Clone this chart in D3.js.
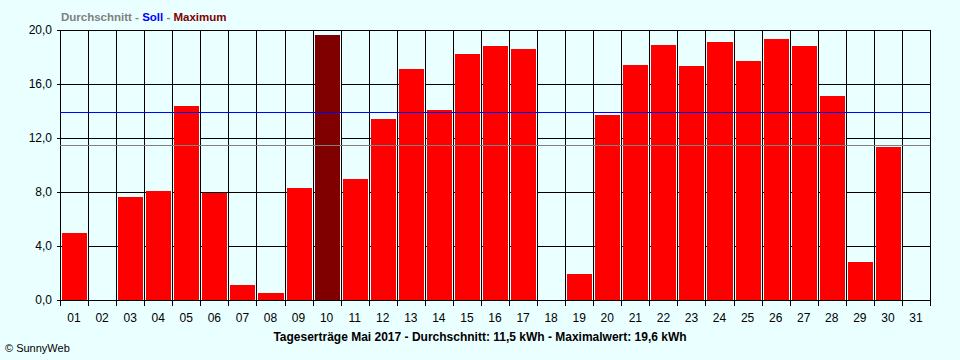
<!DOCTYPE html>
<html><head><meta charset="utf-8">
<script src="https://cdn.jsdelivr.net/npm/d3@7"></script>
<style>body{margin:0;background:#eaffff;} svg{display:block;}</style>
</head><body>
<script>
const days = ["01","02","03","04","05","06","07","08","09","10","11","12","13","14","15","16","17","18","19","20","21","22","23","24","25","26","27","28","29","30","31"];
const values = [5.0,0,7.6,8.1,14.4,7.9,1.1,0.5,8.3,19.6,9.0,13.4,17.1,14.1,18.2,18.8,18.6,0,1.9,13.7,17.4,18.9,17.3,19.1,17.7,19.3,18.8,15.1,2.8,11.3,0];
const yTicks = [0,4,8,12,16,20];
const yTickLabels = ["0,0","4,0","8,0","12,0","16,0","20,0"];
const average = 11.5;
const soll = 13.9;
const maxValue = 19.6;
const title = "Tageserträge Mai 2017 - Durchschnitt: 11,5 kWh - Maximalwert: 19,6 kWh";

const W=960,H=360, L=60,R=930,T=30,B=300;
const svg=d3.select("body").append("svg").attr("width",W).attr("height",H);
svg.append("rect").attr("width",W).attr("height",H).attr("fill","#eaffff");
const x=d3.scaleBand().domain(days).range([L,R]).padding(0);
const y=d3.scaleLinear().domain([0,20]).range([B,T]);
const font="'Liberation Sans', Arial, sans-serif";

// horizontal grid
svg.append("g").selectAll("line").data(yTicks).join("line")
 .attr("x1",L-3).attr("x2",R).attr("y1",d=>Math.round(y(d))+0.5).attr("y2",d=>Math.round(y(d))+0.5)
 .attr("stroke","#000").attr("stroke-width",1);
// vertical grid (band boundaries)
const bounds=days.map(d=>x(d)).concat([R]);
svg.append("g").selectAll("line").data(bounds).join("line")
 .attr("x1",d=>Math.round(d)+0.5).attr("x2",d=>Math.round(d)+0.5).attr("y1",T).attr("y2",B+6)
 .attr("stroke","#000").attr("stroke-width",1);

// bars
const bw=x.bandwidth();
const barData=values.map((v,i)=>({d:days[i],v})).filter(o=>o.v>0);
svg.append("g").selectAll("rect").data(barData).join("rect")
 .attr("x",o=>Math.round(x(o.d))+2).attr("width",o=>Math.round(x(o.d)+bw)-Math.round(x(o.d))-3)
 .attr("y",o=>Math.round(y(o.v))).attr("height",o=>B-Math.round(y(o.v)))
 .attr("fill",o=>o.v===maxValue?"#800000":"#ff0000");
// white separator lines right of bars
svg.append("g").selectAll("line").data(barData).join("line")
 .attr("x1",o=>Math.round(x(o.d)+bw)-0.5).attr("x2",o=>Math.round(x(o.d)+bw)-0.5)
 .attr("y1",o=>Math.round(y(o.v))).attr("y2",B)
 .attr("stroke","#ffffff").attr("stroke-width",1);

// axis line
svg.append("line").attr("x1",L).attr("x2",R+1).attr("y1",B+0.5).attr("y2",B+0.5).attr("stroke","#000");

// reference lines
svg.append("line").attr("x1",L).attr("x2",R).attr("y1",Math.round(y(average))+0.5).attr("y2",Math.round(y(average))+0.5).attr("stroke","#808080");
svg.append("line").attr("x1",L).attr("x2",R).attr("y1",Math.round(y(soll))+0.5).attr("y2",Math.round(y(soll))+0.5).attr("stroke","#0000ff");

// y labels
svg.append("g").selectAll("text").data(yTicks).join("text")
 .attr("x",52).attr("y",d=>y(d)+4).attr("text-anchor","end")
 .attr("font-family",font).attr("font-size",12).attr("fill","#000")
 .text((d,i)=>yTickLabels[i]);
// x labels
svg.append("g").selectAll("text").data(days).join("text")
 .attr("x",d=>x(d)+bw/2).attr("y",322).attr("text-anchor","middle")
 .attr("font-family",font).attr("font-size",12).attr("fill","#000").text(d=>d);

// title
svg.append("text").attr("x",480).attr("y",341).attr("text-anchor","middle")
 .attr("font-family",font).attr("font-weight","bold").attr("font-size",12).attr("fill","#000").text(title);

// legend
const leg=svg.append("text").attr("x",61).attr("y",21).attr("font-family",font).attr("font-weight","bold").attr("font-size",11.5);
leg.append("tspan").attr("fill","#808080").text("Durchschnitt - ");
leg.append("tspan").attr("fill","#0000ff").text("Soll");
leg.append("tspan").attr("fill","#808080").text(" - ");
leg.append("tspan").attr("fill","#800000").text("Maximum");

// copyright
svg.append("text").attr("x",5).attr("y",352).attr("font-family",font).attr("font-size",11).attr("fill","#000").text("© SunnyWeb");
</script>
</body></html>
